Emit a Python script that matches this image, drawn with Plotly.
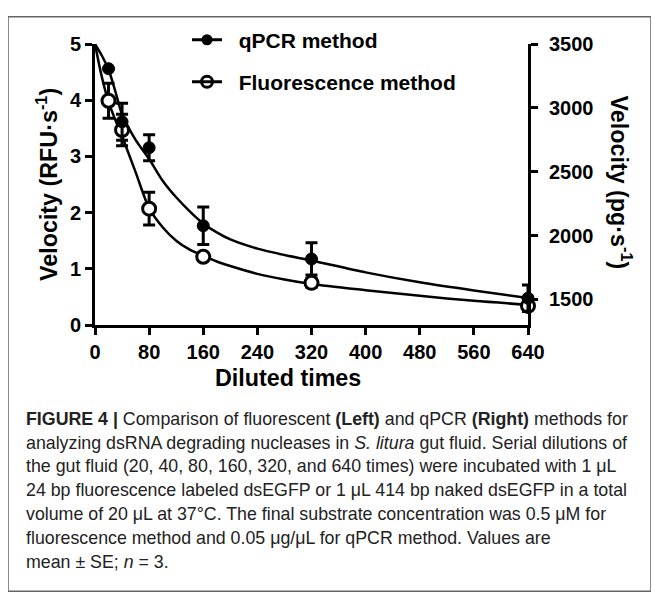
import plotly.graph_objects as go

# ---------------- data ----------------
dilutions = [20, 40, 80, 160, 320, 640]
qpcr_mean = [3307, 2891, 2688, 2077, 1817, 1510]
qpcr_se = [0, 145, 102, 146, 126, 103]
fluor_mean = [3.99, 3.47, 2.07, 1.215, 0.75, 0.34]
fluor_se = [0.31, 0.28, 0.29, 0.05, 0.08, 0.10]

curve_x = [0, 10, 20, 30, 40, 60, 80, 100, 120, 140, 160, 180, 200, 240, 280, 320, 400, 480, 560, 640]
qpcr_fit = [3500, 3410, 3300, 3130, 2950, 2750, 2600, 2430, 2300, 2190, 2095, 2025, 1970, 1898, 1848,
            1805, 1712, 1634, 1570, 1512]
fluor_fit = [5.0, 4.42, 3.97, 3.65, 3.36, 2.72, 2.08, 1.74, 1.50, 1.34, 1.23, 1.13, 1.05, 0.91, 0.81,
             0.73, 0.62, 0.52, 0.43, 0.36]

x_ticks = [0, 80, 160, 240, 320, 400, 480, 560, 640]
y_ticks = [0, 1, 2, 3, 4, 5]
y2_ticks = [1500, 2000, 2500, 3000, 3500]

series_names = ["qPCR method", "Fluorescence method"]

caption_lines = [
    "<b>FIGURE 4 |</b> Comparison of fluorescent <b>(Left)</b> and qPCR <b>(Right)</b> methods for",
    "analyzing dsRNA degrading nucleases in <i>S. litura</i> gut fluid. Serial dilutions of",
    "the gut fluid (20, 40, 80, 160, 320, and 640 times) were incubated with 1 \u03bcL",
    "24 bp fluorescence labeled dsEGFP or 1 \u03bcL 414 bp naked dsEGFP in a total",
    "volume of 20 \u03bcL at 37\u00b0C. The final substrate concentration was 0.5 \u03bcM for",
    "fluorescence method and 0.05 \u03bcg/\u03bcL for qPCR method. Values are",
    "mean \u00b1 SE; <i>n</i> = 3.",
]

# ---------------- geometry helpers (reference pixel -> paper) ----------------
OFF = 8  # page body margin
L, R, T, B = 95, 528, 37, 325
W, H = 659 - OFF, 610 - OFF


def px(x):
    return (x - L) / (R - L)


def py(y):
    return (B - y) / (B - T)


FONT = "Arial, Liberation Sans, Helvetica, sans-serif"
PAD = "\u00a0\u00a0"

fig = go.Figure()

# fitted curves
fig.add_trace(go.Scatter(x=curve_x, y=qpcr_fit, yaxis="y2", mode="lines",
                         line=dict(color="black", width=2.5, shape="spline", smoothing=0.8),
                         showlegend=False, hoverinfo="skip"))
fig.add_trace(go.Scatter(x=curve_x, y=fluor_fit, mode="lines",
                         line=dict(color="black", width=2.5, shape="spline", smoothing=0.8),
                         showlegend=False, hoverinfo="skip"))

# data points
fig.add_trace(go.Scatter(x=dilutions, y=qpcr_mean, yaxis="y2", mode="markers",
                         marker=dict(symbol="circle", size=12, color="black",
                                     line=dict(color="black", width=1)),
                         error_y=dict(type="data", array=qpcr_se, visible=True,
                                      color="black", thickness=3, width=6),
                         cliponaxis=False, showlegend=False))
fig.add_trace(go.Scatter(x=dilutions, y=fluor_mean, mode="markers",
                         marker=dict(symbol="circle", size=13, color="white",
                                     line=dict(color="black", width=3)),
                         error_y=dict(type="data", array=fluor_se, visible=True,
                                      color="black", thickness=3, width=6),
                         cliponaxis=False, showlegend=False))

# legend entries (one legend box each, for exact row placement)
fig.add_trace(go.Scatter(x=[None], y=[None], mode="lines+markers", name=PAD + series_names[0],
                         legend="legend",
                         line=dict(color="black", width=3),
                         marker=dict(symbol="circle", size=11, color="black")))
fig.add_trace(go.Scatter(x=[None], y=[None], mode="lines+markers", name=PAD + series_names[1],
                         legend="legend2",
                         line=dict(color="black", width=3),
                         marker=dict(symbol="circle-open", size=11, color="black",
                                     line=dict(width=3))))

axis_common = dict(showline=True, linecolor="black", linewidth=3, ticks="outside",
                   ticklen=7, tickwidth=3, tickcolor="black", showgrid=False,
                   zeroline=False,
                   tickfont=dict(family=FONT, size=20, color="black", weight="bold"))

legend_common = dict(xanchor="left", yanchor="middle", bgcolor="rgba(0,0,0,0)",
                     itemwidth=30,
                     font=dict(family=FONT, size=21, color="black", weight="bold"))

fig.update_layout(
    width=W, height=H,
    margin=dict(l=L - OFF, r=W - (R - OFF), t=T - OFF, b=H - (B - OFF), pad=0),
    paper_bgcolor="white", plot_bgcolor="white",
    font=dict(family=FONT, size=20, color="black"),
    xaxis=dict(range=[0, 640], tickvals=x_ticks, **axis_common),
    yaxis=dict(range=[0, 5], tickvals=y_ticks, **axis_common),
    yaxis2=dict(range=[1300, 3500], tickvals=y2_ticks, overlaying="y", side="right",
                ticklabelstandoff=7, **axis_common),
    legend=dict(x=px(187), y=py(33), **legend_common),
    legend2=dict(x=px(187), y=py(76), **legend_common),
)

TITLE_FONT = dict(family=FONT, size=23.3, color="black", weight="bold")
annotations = [
    dict(text="Velocity (RFU\u00b7s<sup>-1</sup>)", x=px(47), y=py(181.5), textangle=-90,
         font=TITLE_FONT),
    dict(text="Velocity (pg\u00b7s<sup>-1</sup>)", x=px(621), y=py(179), textangle=90,
         font=TITLE_FONT),
    dict(text="Diluted times", x=px(288), y=py(379), font=TITLE_FONT),
]
for i, line in enumerate(caption_lines):
    annotations.append(dict(text=line, x=px(24), y=py(421 + 24.5 * i), xanchor="left",
                            font=dict(family=FONT, size=17.8, color="#222222")))
for a in annotations:
    a.update(xref="paper", yref="paper", showarrow=False)
    a.setdefault("xanchor", "center")
    a.setdefault("yanchor", "middle")
fig.update_layout(annotations=annotations)

fig.add_shape(type="rect", xref="paper", yref="paper",
              x0=px(8), x1=px(651), y0=py(598), y1=py(9),
              line=dict(color="#666666", width=1.5), fillcolor="rgba(0,0,0,0)", layer="below")

fig.write_html("out.html")
